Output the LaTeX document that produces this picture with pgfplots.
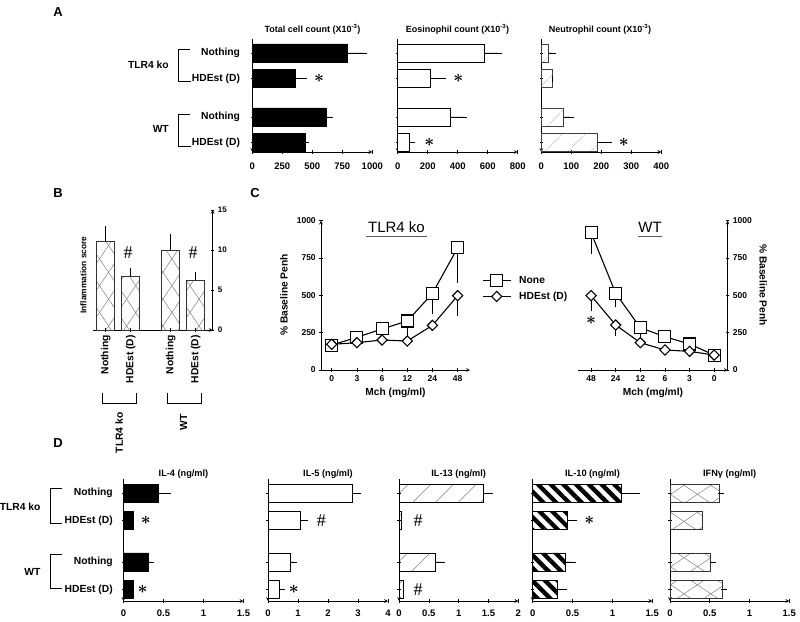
\documentclass[border=0pt]{standalone}
\usepackage{fontspec}
\setmainfont{Liberation Sans}
\newfontfamily\seriffont{Liberation Serif}
\usepackage{pgfplots}
\pgfplotsset{compat=1.18}
\usetikzlibrary{patterns.meta}

\newcommand{\st}{{\fontsize{17}{17}\selectfont\boldmath$\ast$}}
\newcommand{\hs}{{\seriffont\fontsize{18}{18}\selectfont\#}}

\pgfplotsset{
  base/.style={
    scale only axis,
    axis line style={-, line width=0.7pt, black},
    tick align=outside,
    major tick length=3.5pt,
    tick style={line width=0.6pt, black},
    /pgf/number format/assume math mode=true,
    /pgf/number format/1000 sep={},
    tick label style={font=\bfseries\fontsize{9.5}{10}\selectfont},
    clip=false,
  },
  hbar/.style={
    base,
    y dir=reverse,
    axis x line=bottom, axis y line=left,
    xmin=0,
    ytick={0,1,2.5,3.5},
    yticklabels={},
    anchor=south west,
  },
  ebx/.style={
    xbar, bar width=18pt, line width=0.6pt,
    error bars/x dir=plus, error bars/x explicit,
    error bars/error bar style={line width=0.6pt, black, solid},
    error bars/error mark options={line width=0.6pt, black, mark size=3pt},
  },
  eby/.style={
    forget plot, mark=none, draw=none,
    error bars/y dir=minus, error bars/y explicit,
    error bars/error bar style={line width=0.6pt, draw=black},
    error bars/error mark options={line width=0.6pt, draw=black, mark size=3.3pt},
  },
  sq/.style={black, line width=1.1pt, mark=square*, mark size=6pt, mark options={fill=white, line width=1.1pt}},
  dm/.style={black, line width=1.1pt, mark=square*, mark size=3.6pt, mark options={fill=white, line width=1.1pt, rotate=45}},
  rowA/.style={hbar, ymin=-0.53, ymax=3.87, height=112.6pt, width=120pt,
    xticklabel style={yshift=-6pt}},
  rowD/.style={hbar, ymin=-0.5, ymax=3.92, height=121.6pt, width=120pt,
    xticklabel style={yshift=-3.5pt}},
}

\begin{document}
\begin{tikzpicture}[x=1pt,y=1pt]
\useasboundingbox (0,0) rectangle (800,-621);

% ---------------- Panel A ----------------
\begin{axis}[rowA, at={(252.3pt,-152pt)}, xmax=1000, xtick={0,250,500,750,1000},
  yticklabels={Nothing,HDEst (D),Nothing,HDEst (D)},
  yticklabel style={font=\bfseries\fontsize{10.3}{12}\selectfont, xshift=-7pt}]
\addplot[ebx, fill=black, draw=black] coordinates {(792,0) +- (136,0) (355,1) +- (72,0) (618,2.5) +- (27,0) (438,3.5) +- (9,0)};
\node at (axis cs:556,1) {\st};
\end{axis}

\begin{axis}[rowA, at={(397.7pt,-152pt)}, xmax=800, xtick={0,200,400,600,800}]
\addplot[ebx, fill=white, draw=black] coordinates {(575,0) +- (98,0) (220,1) +- (81,0) (350,2.5) +- (93,0) (78,3.5) +- (15,0)};
\node at (axis cs:405,1) {\st};
\node at (axis cs:211,3.5) {\st};
\end{axis}

\begin{axis}[rowA, at={(541.3pt,-152pt)}, xmax=400, xtick={0,100,200,300,400}]
\addplot[ebx, draw=black!75, pattern={Lines[angle=45,distance=17pt,line width=0.5pt]}, pattern color=gray] coordinates {(24,0) +- (14,0) (37,1) +- (0,0) (74,2.5) +- (24,0) (185,3.5) +- (42,0)};
\node at (axis cs:275,3.5) {\st};
\end{axis}

\begin{scope}[font=\bfseries\fontsize{9}{10}\selectfont]
\node at (312.5,-29) {Total cell count (X10\textsuperscript{-3})};
\node at (457.5,-29) {Eosinophil count (X10\textsuperscript{-3})};
\node at (600,-29) {Neutrophil count (X10\textsuperscript{-3})};
\end{scope}
\begin{scope}[font=\bfseries\fontsize{10.3}{12}\selectfont]
\node[anchor=east] at (172.3,-65.3) {TLR4 ko};
\node[anchor=east] at (172.3,-129.3) {WT};
\end{scope}
\draw[line width=0.8pt] (190,-49) -- (178.3,-49) -- (178.3,-81.7) -- (191,-81.7);
\draw[line width=0.8pt] (190,-114) -- (178.3,-114) -- (178.3,-146.7) -- (191,-146.7);
\node[font=\bfseries\fontsize{13}{14}\selectfont] at (58,-12) {A};

% ---------------- Panel B ----------------
\begin{axis}[base, anchor=south west, at={(92.7pt,-330pt)}, width=120pt, height=120pt,
  xmin=-0.52, xmax=4.28, ymin=0, ymax=15,
  axis x line=bottom, axis y line=right,
  xtick={0,1,2.6,3.6}, xticklabels={Nothing,HDEst (D),Nothing,HDEst (D)},
  xticklabel style={rotate=90, anchor=east, font=\bfseries\fontsize{10.3}{12}\selectfont},
  ytick={0,5,10,15},
  yticklabel style={font=\bfseries\fontsize{8}{9}\selectfont}]
\addplot[ybar, bar width=18pt, line width=0.6pt, draw=black!80,
  pattern={Lines[angle=56,distance=15pt,line width=0.5pt]}, pattern color=gray,
  postaction={pattern={Lines[angle=-56,distance=15pt,line width=0.5pt]}, pattern color=gray},
  error bars/y dir=plus, error bars/y explicit,
  error bars/error bar style={line width=0.6pt, black, solid},
  error bars/error mark options={line width=0.6pt, black, mark size=3pt}]
  coordinates {(0,11.1) +- (0,1.55) (1,6.75) +- (0,0.65) (2.6,9.96) +- (0,1.64) (3.6,6.2) +- (0,0.7)};
\node at (axis cs:0.9,9.7) {\hs};
\node at (axis cs:3.5,9.7) {\hs};
\end{axis}
\node[rotate=90, font=\bfseries\fontsize{8.4}{10}\selectfont] at (83.3,-275) {Inflammation score};
\draw[line width=0.8pt] (102.3,-392.7) -- (102.3,-403.3) -- (136.7,-403.3) -- (136.7,-392.7);
\draw[line width=0.8pt] (167.3,-392.7) -- (167.3,-403.3) -- (201.7,-403.3) -- (201.7,-392.7);
\begin{scope}[font=\bfseries\fontsize{10.3}{12}\selectfont]
\node[rotate=90, anchor=east] at (119.3,-409) {TLR4 ko};
\node[rotate=90, anchor=east] at (183.7,-411) {WT};
\end{scope}
\node[font=\bfseries\fontsize{13}{14}\selectfont] at (58,-193) {B};

% ---------------- Panel C ----------------
\begin{axis}[base, anchor=south west, at={(321pt,-370pt)}, width=149pt, height=149.3pt,
  xmin=-0.425, xmax=5.49, ymin=0, ymax=1000,
  axis x line=bottom, axis y line=left,
  xtick={0,...,5}, xticklabels={0,3,6,12,24,48},
  ytick={0,250,500,750,1000},
  tick label style={font=\bfseries\fontsize{8.5}{9}\selectfont},
  legend image code/.code={\draw[mark repeat=2,mark phase=2,#1] plot coordinates {(0pt,0pt)(14pt,0pt)(28pt,0pt)};},
  legend cell align=left,
  legend style={at={(1.06,0.545)}, anchor=west, draw=none, fill=none,
    font=\bfseries\fontsize{10.3}{12}\selectfont, row sep=3pt,
    /tikz/every odd column/.append style={column sep=6pt}}]
\addplot[eby] coordinates {(0,167) (1,219) (2,275) (3,328) +- (0,76) (4,513) +- (0,118) (5,819) +- (0,212)};
\addplot[eby] coordinates {(0,172) (1,183) (2,201) (3,194) (4,299) (5,498) +- (0,112)};
\addplot[sq] coordinates {(0,167) (1,219) (2,275) (3,328) (4,513) (5,819)};
\addlegendentry{None}
\addplot[dm] coordinates {(0,172) (1,183) (2,201) (3,194) (4,299) (5,498)};
\addlegendentry{HDEst (D)}
\end{axis}

\begin{axis}[base, anchor=south west, at={(578.3pt,-370pt)}, width=149.4pt, height=149.3pt,
  xmin=-0.52, xmax=5.55, ymin=0, ymax=1000,
  axis x line=bottom, axis y line=right,
  xtick={0,...,5}, xticklabels={48,24,12,6,3,0},
  ytick={0,250,500,750,1000},
  tick label style={font=\bfseries\fontsize{8.5}{9}\selectfont}]
\addplot[eby] coordinates {(0,920) +- (0,123) (1,513) +- (0,71) (2,283) +- (0,44) (3,223) (4,174) (5,100)};
\addplot[eby] coordinates {(0,498) +- (0,83) (1,301) +- (0,51) (2,183) (3,134) (4,125) (5,100)};
\addplot[sq] coordinates {(0,920) (1,513) (2,283) (3,223) (4,174) (5,100)};
\addplot[dm] coordinates {(0,498) (1,301) (2,183) (3,134) (4,125) (5,100)};
\node at (axis cs:0,335) {\st};
\end{axis}

\node[font=\fontsize{15}{16}\selectfont] at (396.5,-227) {TLR4 ko};
\node[font=\fontsize{15}{16}\selectfont] at (650,-227) {WT};
\draw[line width=1.3pt, black!65] (366,-236.5) -- (427,-236.5);
\draw[line width=1.3pt, black!65] (638.3,-236.5) -- (661.7,-236.5);
\begin{scope}[font=\bfseries\fontsize{10.2}{12}\selectfont]
\node at (395.5,-392.7) {Mch (mg/ml)};
\node at (653,-392.7) {Mch (mg/ml)};
\node[rotate=90] at (284,-295) {\% Baseline Penh};
\node[rotate=-90] at (763.3,-285) {\% Baseline Penh};
\end{scope}
\node[font=\bfseries\fontsize{13}{14}\selectfont] at (255,-193) {C};

% ---------------- Panel D ----------------
\begin{axis}[rowD, at={(123.5pt,-601pt)}, xmax=1.5, xtick={0,0.5,1,1.5},
  yticklabels={Nothing,HDEst (D),Nothing,HDEst (D)},
  yticklabel style={font=\bfseries\fontsize{10.3}{12}\selectfont, xshift=-5.5pt}]
\addplot[ebx, fill=black, draw=black] coordinates {(0.4375,0) +- (0.12,0) (0.125,1) (0.3125,2.5) +- (0.034,0) (0.117,3.5)};
\node at (axis cs:0.28,1) {\st};
\node at (axis cs:0.24,3.5) {\st};
\end{axis}

\begin{axis}[rowD, at={(268pt,-601pt)}, xmax=4, xtick={0,1,2,3,4}]
\addplot[ebx, fill=white, draw=black] coordinates {(2.82,0) +- (0.18,0) (1.08,1) +- (0.16,0) (0.74,2.5) +- (0.12,0) (0.36,3.5) +- (0.11,0)};
\node at (axis cs:1.78,1) {\hs};
\node at (axis cs:0.86,3.5) {\st};
\end{axis}

\begin{axis}[rowD, at={(399pt,-601pt)}, width=119.3pt, xmax=2, xtick={0,0.5,1,1.5,2}]
\addplot[ebx, draw=black, pattern={Lines[angle=45,distance=16pt,line width=0.5pt]}, pattern color=gray] coordinates {(1.41,0) +- (0.11,0) (0.045,1) (0.614,2.5) +- (0.1,0) (0.072,3.5)};
\node at (axis cs:0.32,1) {\hs};
\node at (axis cs:0.32,3.5) {\hs};
\end{axis}

\begin{axis}[rowD, at={(532.7pt,-601pt)}, width=119.6pt, xmax=1.5, xtick={0,0.5,1,1.5}]
\addplot[ebx, draw=black, pattern={Lines[angle=-45,distance=9pt,line width=4.3pt]}, pattern color=black] coordinates {(1.116,0) +- (0.19,0) (0.435,1) +- (0.085,0) (0.414,2.5) +- (0.088,0) (0.309,3.5) +- (0.084,0)};
\node at (axis cs:0.71,1) {\st};
\end{axis}

\begin{axis}[rowD, at={(670pt,-601pt)}, width=119.3pt, xmax=1.5, xtick={0,0.5,1,1.5}]
\addplot[ebx, draw=black!80,
  pattern={Lines[angle=34,distance=15pt,line width=0.5pt]}, pattern color=gray,
  postaction={pattern={Lines[angle=-34,distance=15pt,line width=0.5pt]}, pattern color=gray}]
  coordinates {(0.62,0) +- (0.02,0) (0.406,1) (0.512,2.5) +- (0.023,0) (0.658,3.5) +- (0.022,0)};
\end{axis}

\begin{scope}[font=\bfseries\fontsize{9.2}{10}\selectfont]
\node at (183.5,-474) {IL-4 (ng/ml)};
\node at (328,-474) {IL-5 (ng/ml)};
\node at (458.7,-474) {IL-13 (ng/ml)};
\node at (592.5,-474) {IL-10 (ng/ml)};
\node at (729.7,-474) {IFNγ (ng/ml)};
\end{scope}
\begin{scope}[font=\bfseries\fontsize{10.3}{12}\selectfont]
\node[anchor=east] at (44,-507) {TLR4 ko};
\node[anchor=east] at (44,-571.7) {WT};
\end{scope}
\draw[line width=0.8pt] (62,-488.3) -- (50.7,-488.3) -- (50.7,-523.3) -- (62,-523.3);
\draw[line width=0.8pt] (62,-554) -- (50.7,-554) -- (50.7,-588.3) -- (62,-588.3);
\node[font=\bfseries\fontsize{13}{14}\selectfont] at (58,-443) {D};
\end{tikzpicture}
\end{document}
